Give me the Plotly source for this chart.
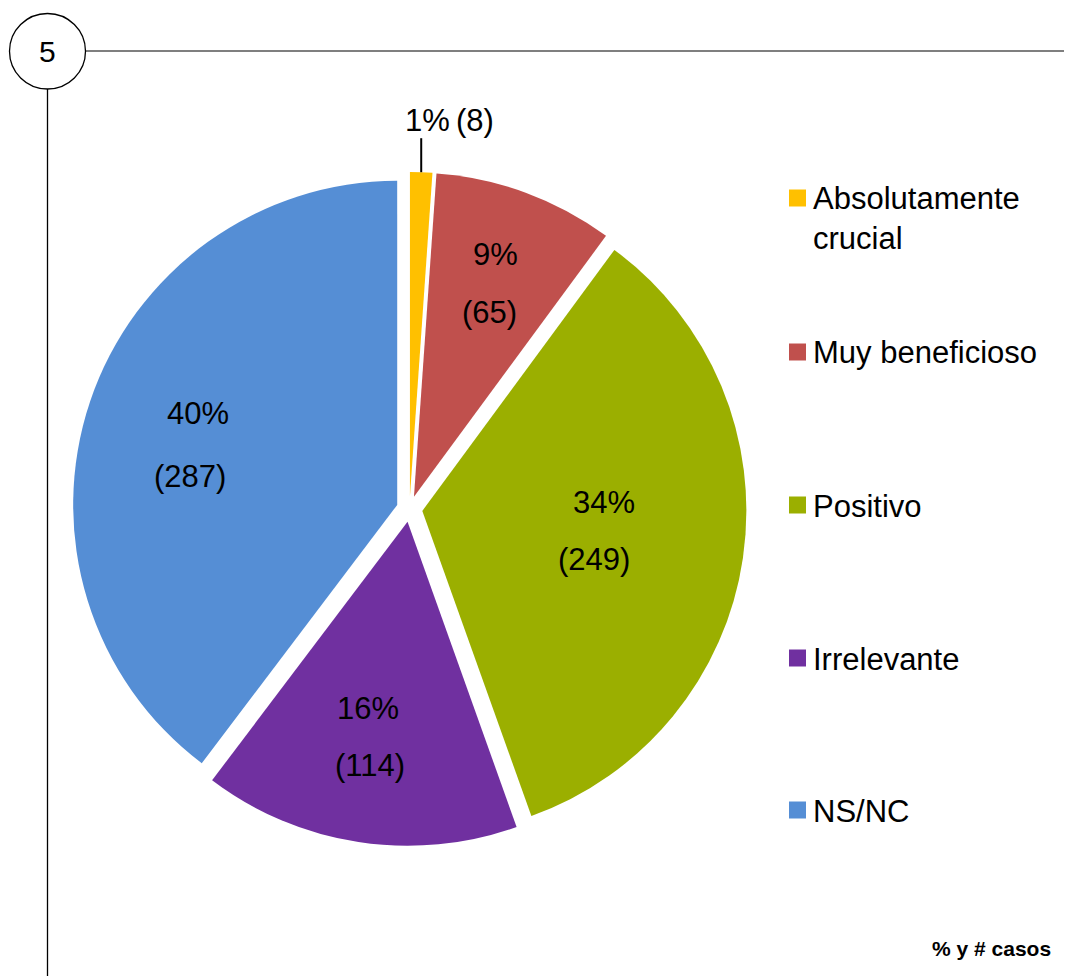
import math
import plotly.graph_objects as go

# ---- data ----
categories = ["Absolutamente<br>crucial", "Muy beneficioso", "Positivo", "Irrelevante", "NS/NC"]
counts = [8, 65, 249, 114, 287]
colors = ["#FFC000", "#C0504D", "#9BAF00", "#7030A0", "#558ED5"]
chart_number = "5"
footnote = "% y # casos"

# ---- layout constants (page pixels) ----
OFF = 8                     # default body margin of the html page
W, H = 1072 - OFF, 976 - OFF
PULL = 0.04
DOM_X = (72.5, 746.5)       # pie domain, px from left of page
DOM_Y = (172.0, 846.0)      # pie domain, px from top of page
LABEL_R = [None, 0.70, 0.55, 0.67, 0.65]  # inside label radius fraction
PCT_NUDGE = [(0, 0), (-1, 0), (1, -5), (-11, 1), (-4, 5)]
CNT_NUDGE = [(0, 0), (-1, 0), (-3, -6), (-3, 0), (-6, 10)]
FONT = "Liberation Sans, Arial, sans-serif"
FS = 31


def px(x):
    return (x - OFF) / W


def py(y):
    return 1 - (y - OFF) / H


total = sum(counts)
pcts = [round(v / total * 100) for v in counts]

cx = (DOM_X[0] + DOM_X[1]) / 2
cy = (DOM_Y[0] + DOM_Y[1]) / 2
R = (DOM_X[1] - DOM_X[0]) / 2 / (1 + PULL)
d = R * PULL

fig = go.Figure()
fig.add_trace(go.Pie(
    labels=[c.replace("<br>", " ") for c in categories],
    values=counts,
    sort=False,
    direction="clockwise",
    rotation=0,
    pull=[PULL] * len(counts),
    marker=dict(colors=colors, line=dict(color="white", width=0)),
    textinfo="none",
    hoverinfo="label+value+percent",
    showlegend=False,
    domain=dict(x=[px(DOM_X[0]), px(DOM_X[1])], y=[py(DOM_Y[1]), py(DOM_Y[0])]),
))

annotations = []
shapes = []


def text(x, y, s, size=FS, xanchor="center", yanchor="middle", bold=False):
    annotations.append(dict(x=px(x), y=py(y), xref="paper", yref="paper",
                            text=f"<b>{s}</b>" if bold else s, showarrow=False,
                            xanchor=xanchor, yanchor=yanchor, align="left",
                            font=dict(size=size, color="black", family=FONT)))


cum = 0
for i, v in enumerate(counts):
    a0 = cum / total * 360
    cum += v
    a1 = cum / total * 360
    mid = math.radians((a0 + a1) / 2)
    sx = cx + d * math.sin(mid)
    sy = cy - d * math.cos(mid)
    if LABEL_R[i] is None:
        # outside label with leader line
        ex = sx + R * math.sin(mid)
        ey = sy - R * math.cos(mid)
        shapes.append(dict(type="line", xref="paper", yref="paper",
                           x0=px(ex), x1=px(ex), y0=py(ey), y1=py(ey - 34),
                           line=dict(color="black", width=2)))
        text(ex + 28, ey - 52, f"{pcts[i]}%\u2009({v})")
    else:
        lx = sx + LABEL_R[i] * R * math.sin(mid)
        ly = sy - LABEL_R[i] * R * math.cos(mid)
        pdx, pdy = PCT_NUDGE[i]
        cdx, cdy = CNT_NUDGE[i]
        text(lx + 4 + pdx, ly - 29 + pdy, f"{pcts[i]}%")
        text(lx - 2 + cdx, ly + 29 + cdy, f"({v})")

# ---- custom legend ----
legend_y = [198, 352, 505, 658, 810]
for i, lab in enumerate(categories):
    yc = legend_y[i]
    shapes.append(dict(type="rect", xref="paper", yref="paper",
                       x0=px(789), x1=px(806), y0=py(yc - 8.5), y1=py(yc + 8.5),
                       fillcolor=colors[i], line=dict(width=0)))
    text(811, yc - 18.5, lab, xanchor="left", yanchor="top")

# ---- decorations ----
shapes.append(dict(type="line", xref="paper", yref="paper",
                   x0=px(86), x1=px(1072), y0=py(51), y1=py(51),
                   line=dict(color="#7F7F7F", width=2)))
shapes.append(dict(type="line", xref="paper", yref="paper",
                   x0=px(47.5), x1=px(47.5), y0=py(89), y1=py(976),
                   line=dict(color="black", width=1.3)))
shapes.append(dict(type="circle", xref="paper", yref="paper",
                   x0=px(9.5), x1=px(85.5), y0=py(13.5), y1=py(89),
                   line=dict(color="black", width=1.3), fillcolor="white"))
text(47.5, 52, chart_number, size=30)
text(1053, 948, footnote, size=21, xanchor="right", bold=True)

fig.update_layout(
    width=W, height=H,
    margin=dict(l=0, r=0, t=0, b=0),
    paper_bgcolor="white", plot_bgcolor="white",
    showlegend=False,
    shapes=shapes,
    annotations=annotations,
)

fig.write_html("out.html")
